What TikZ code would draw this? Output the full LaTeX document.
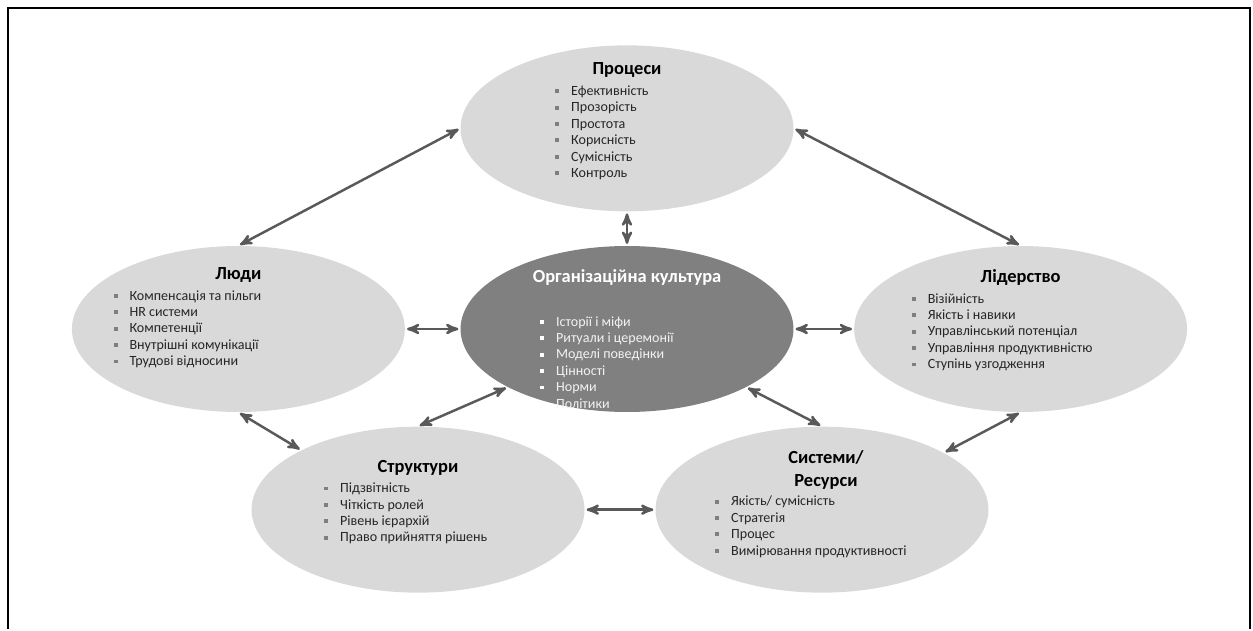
\documentclass[tikz,border=0pt]{standalone}
\usepackage{fontspec}
\setmainfont{Carlito}
\usetikzlibrary{arrows,shapes,positioning}
\definecolor{ovalgray}{HTML}{D9D9D9}
\definecolor{coregray}{HTML}{808080}
\definecolor{linkgray}{HTML}{595959}
\definecolor{itemgray}{HTML}{262626}
\definecolor{sqgray}{HTML}{7F7F7F}
\newcommand{\sq}{{\color{sqgray}\rule[1.3pt]{2.2pt}{2.2pt}}\hspace{6.8pt}}
\newcommand{\wsq}{{\color{white}\rule[1.3pt]{2.2pt}{2.2pt}}\hspace{6.8pt}}

\begin{document}
\begin{tikzpicture}[x=0.02cm,y=-0.02cm,>=stealth',shorten >=1pt,shorten <=1pt,
    oval/.style={ellipse,fill=ovalgray,minimum width=6.66cm,minimum height=3.32cm,inner sep=0pt},
    ttl/.style={font=\fontsize{10.5}{13}\selectfont\bfseries,align=center,inner sep=0pt},
    lst/.style={font=\fontsize{8}{9.35}\selectfont,text=itemgray,align=left,inner sep=0pt,anchor=north west},
    link/.style={<->,color=linkgray,line width=1.4pt}]
    \useasboundingbox (0,0) rectangle (1253,631);
    \draw[line width=1.3pt] (8,631) -- (8,8) -- (1250,8) -- (1250,631);

    \node[oval,fill=coregray] (C) at (627,329) {};
    \node[oval] (P) [above=0.68cm of C] {};
    \node[oval] (H) [left=1.1cm of C] {};
    \node[oval] (L) [right=1.2cm of C] {};
    \node[oval] (S) [below=0.28cm of C, xshift=-4.18cm] {};
    \node[oval] (Y) [below=0.28cm of C, xshift=3.9cm] {};

    % titles
    \node[ttl,text=white] (Ct) at ([yshift=1.02cm]C.center) {Організаційна культура};
    \node[ttl] (Pt) at ([yshift=1.16cm]P.center) {Процеси};
    \node[ttl] (Ht) at ([yshift=1.08cm]H.center) {Люди};
    \node[ttl] (Lt) at ([yshift=1.02cm]L.center) {Лідерство};
    \node[ttl] (St) at ([yshift=0.84cm]S.center) {Структури};
    \node[ttl] (Yt) at ([xshift=0.08cm,yshift=0.8cm]Y.center) {Системи/\\Ресурси};

    % lists
    \node[lst,text=white!95!black] (Cl) at ([xshift=-1.74cm,yshift=0.26cm]C.center)
        {\wsq Історії і міфи\\ \wsq Ритуали і церемонії\\ \wsq Моделі поведінки\\
         \wsq Цінності\\ \wsq Норми\\ \wsq Політики};
    \node[lst] (Pl) at ([xshift=-1.44cm,yshift=0.86cm]P.center)
        {\sq Ефективність\\ \sq Прозорість\\ \sq Простота\\ \sq Корисність\\
         \sq Сумісність\\ \sq Контроль};
    \node[lst] (Hl) at ([xshift=-2.5cm,yshift=0.78cm]H.center)
        {\sq Компенсація та пільги\\ \sq HR системи\\ \sq Компетенції\\
         \sq Внутрішні комунікації\\ \sq Трудові відносини};
    \node[lst] (Ll) at ([xshift=-2.18cm,yshift=0.72cm]L.center)
        {\sq Візійність\\ \sq Якість і навики\\ \sq Управлінський потенціал\\
         \sq Управління продуктивністю\\ \sq Ступінь узгодження};
    \node[lst] (Sl) at ([xshift=-1.88cm,yshift=0.54cm]S.center)
        {\sq Підзвітність\\ \sq Чіткість ролей\\ \sq Рівень ієрархій\\ \sq Право прийняття рішень};
    \node[lst] (Yl) at ([xshift=-2.14cm,yshift=0.28cm]Y.center)
        {\sq Якість/ сумісність\\ \sq Стратегія\\ \sq Процес\\ \sq Вимірювання продуктивності};

    \path[link]
    (P.west) edge (H.north)
    (P.east) edge (L.north)
    (P.south) edge (C.north)
    (H.east) edge (C.west)
    (C.east) edge (L.west)
    (H.south) edge (S.153)
    (C.206) edge (S.north)
    (C.334) edge (Y.north)
    (L.south) edge (Y.25)
    (S.east) edge (Y.west)
    ;
\end{tikzpicture}
\end{document}
